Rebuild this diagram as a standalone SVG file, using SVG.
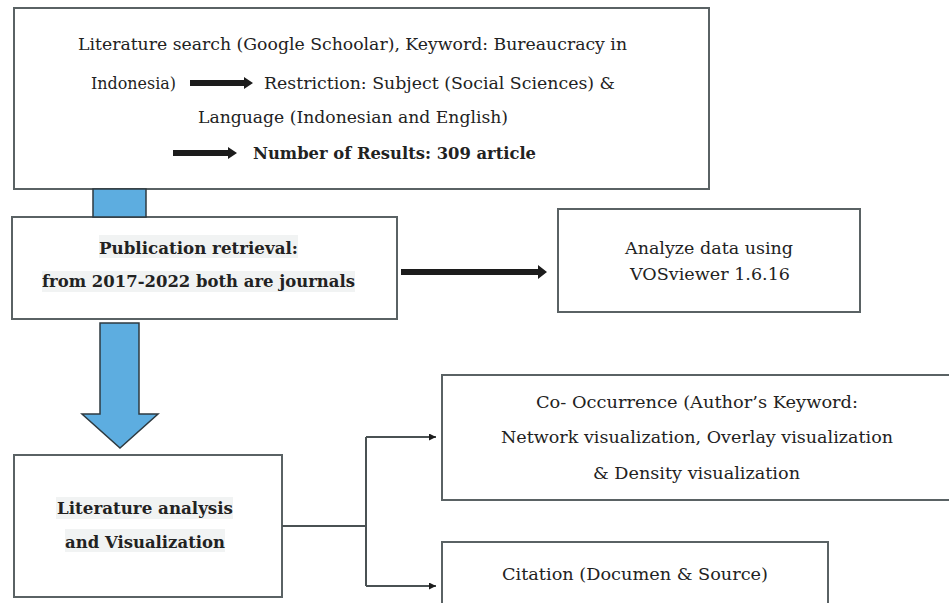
<svg xmlns="http://www.w3.org/2000/svg" width="949" height="603" viewBox="0 0 949 603">
  <style>
    .box { fill: #ffffff; stroke: #5a6264; stroke-width: 2; }
    .t { font-family: "DejaVu Serif", "Liberation Serif", serif; font-size: 17px; fill: #222222; }
    .b { font-weight: bold; }
    .hl { fill: #f1f3f3; }
    .blue { fill: #5dade0; stroke: #2e3a40; stroke-width: 1.5; }
    .blk { fill: #1c1c1c; }
    .ln { fill: none; stroke: #4a5153; stroke-width: 2; }
  </style>
  <defs>
    <marker id="ah" viewBox="0 0 10 10" refX="10" refY="5" markerWidth="12" markerHeight="7" markerUnits="userSpaceOnUse" orient="auto">
      <path d="M0,0 L10,5 L0,10 z" fill="#1c1c1c"/>
    </marker>
  </defs>
  <rect width="949" height="603" fill="#ffffff"/>

  <g id="search">
    <rect class="box" x="14" y="8" width="695" height="181"/>
    <text class="t" x="78" y="50" textLength="549" lengthAdjust="spacingAndGlyphs">Literature search (Google Schoolar), Keyword: Bureaucracy in</text>
    <text class="t" x="91" y="89" textLength="85" lengthAdjust="spacingAndGlyphs">Indonesia)</text>
    <path class="blk" d="M190,80 L244,80 L244,77 L253,83 L244,89 L244,86 L190,86 z"/>
    <text class="t" x="264" y="89" textLength="351" lengthAdjust="spacingAndGlyphs">Restriction: Subject (Social Sciences) &amp;</text>
    <text class="t" x="198" y="123" textLength="310" lengthAdjust="spacingAndGlyphs">Language (Indonesian and English)</text>
    <path class="blk" d="M173,150 L228,150 L228,147 L237,153 L228,159 L228,156 L173,156 z"/>
    <text class="t b" x="253" y="159" textLength="283" lengthAdjust="spacingAndGlyphs">Number of Results: 309 article</text>
  </g>

  <g id="retrieval">
    <rect class="box" x="12" y="217" width="385" height="102"/>
    <rect class="hl" x="99" y="235" width="199" height="23"/>
    <rect class="hl" x="42" y="271" width="313" height="21"/>
    <text class="t b" x="99" y="254" textLength="199" lengthAdjust="spacingAndGlyphs">Publication retrieval:</text>
    <text class="t b" x="42" y="287" textLength="313" lengthAdjust="spacingAndGlyphs">from 2017-2022 both are journals</text>
  </g>

  <g id="vosviewer">
    <rect class="box" x="558" y="209" width="302" height="103"/>
    <text class="t" x="625" y="254" textLength="168" lengthAdjust="spacingAndGlyphs">Analyze data using</text>
    <text class="t" x="630" y="280" textLength="160" lengthAdjust="spacingAndGlyphs">VOSviewer 1.6.16</text>
  </g>

  <g id="analysis">
    <rect class="box" x="14" y="455" width="268" height="142"/>
    <rect class="hl" x="56" y="497" width="177" height="22"/>
    <rect class="hl" x="65" y="529" width="160" height="23"/>
    <text class="t b" x="57" y="514" textLength="176" lengthAdjust="spacingAndGlyphs">Literature analysis</text>
    <text class="t b" x="65" y="548" textLength="160" lengthAdjust="spacingAndGlyphs">and Visualization</text>
  </g>

  <g id="cooccurrence">
    <rect class="box" x="442" y="375" width="520" height="125"/>
    <text class="t" x="536" y="408" textLength="322" lengthAdjust="spacingAndGlyphs">Co- Occurrence (Author’s Keyword:</text>
    <text class="t" x="501" y="443" textLength="392" lengthAdjust="spacingAndGlyphs">Network visualization, Overlay visualization</text>
    <text class="t" x="593" y="479" textLength="207" lengthAdjust="spacingAndGlyphs">&amp; Density visualization</text>
  </g>

  <g id="citation">
    <rect class="box" x="442" y="542" width="386" height="80"/>
    <text class="t" x="502" y="580" textLength="266" lengthAdjust="spacingAndGlyphs">Citation (Documen &amp; Source)</text>
  </g>

  <g id="connectors">
    <rect class="blue" x="93" y="189" width="53" height="28"/>
    <path class="blk" d="M401,269 L538,269 L538,265 L547,272 L538,279 L538,275 L401,275 z"/>
    <path class="blue" d="M100,323 L139,323 L139,414 L158,414 L120,448 L82,414 L100,414 z"/>
    <path class="ln" d="M282,526 L366,526"/>
    <path class="ln" d="M366,437 L366,586"/>
    <path class="ln" d="M366,437 L436,437" marker-end="url(#ah)"/>
    <path class="ln" d="M366,586 L436,586" marker-end="url(#ah)"/>
  </g>
</svg>
